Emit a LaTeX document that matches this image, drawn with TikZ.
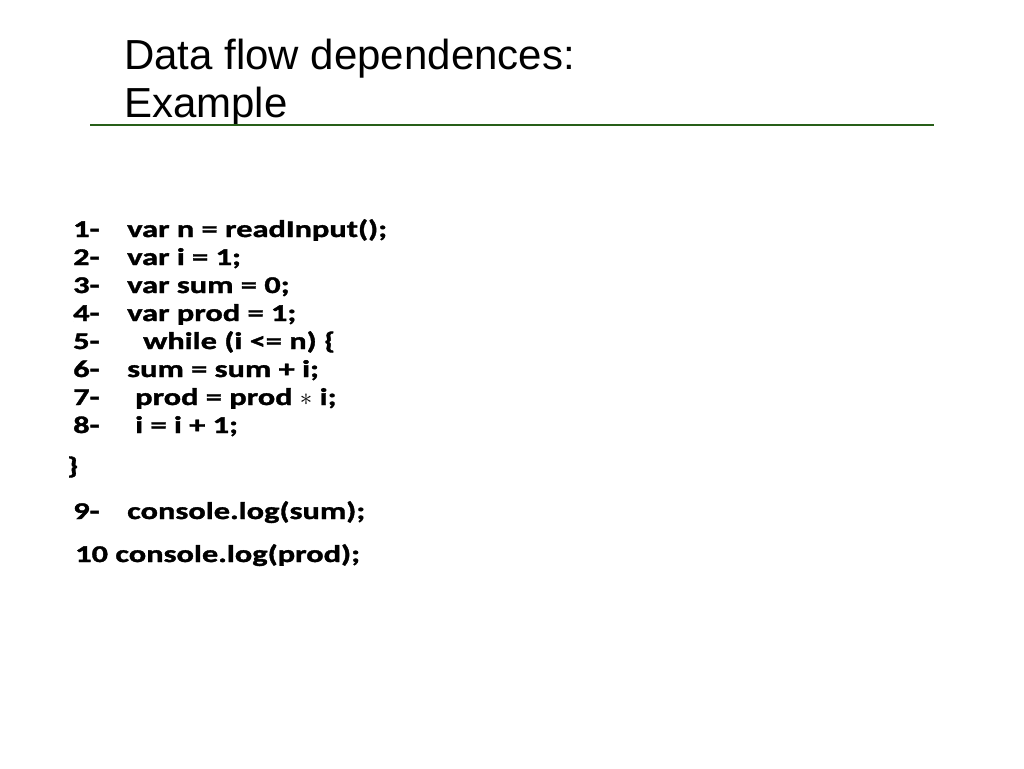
\documentclass[tikz,border=0pt]{standalone}
\usepackage{fontspec}
\setmainfont{Liberation Sans}
\newfontfamily\codefont[FakeStretch=1.35,BoldFeatures={FakeBold=1.5}]{Carlito}
\begin{document}
\begin{tikzpicture}[x=1pt,y=-1pt,
  ttl/.style={anchor=base west,inner sep=0pt,font=\fontsize{42}{48}\selectfont},
  cd/.style={anchor=base west,inner sep=0pt,font=\codefont\bfseries\fontsize{24}{28}\selectfont}]
\useasboundingbox (0,0) rectangle (1024,768);
\node[ttl] (t1) at (124,70) {Data flow dependences:};
\node[ttl] (t2) at (124,117) {Example};
\draw[line width=2.5pt,color={rgb,255:red,40;green,95;blue,25}] (90,125) coordinate (la) -- (934,125) coordinate (lb);
\foreach \n/\y/\x/\t in {1/237/127/{var n = readInput();},2/265/127/{var i = 1;},3/293/127/{var sum = 0;},4/321/127/{var prod = 1;},5/349/143/{while (i <= n) \{},6/377/127/{sum = sum + i;},7/405/135/{prod = prod $\ast$ i;},8/433/135/{i = i + 1;},9/519/127/{console.log(sum);}}{
  \node[cd] (n\n) at (73,\y) {\n-};
  \node[cd] (c\n) at (\x,\y) {\t};
}
\node[cd] (brace) at (67,474) {\}};
\node[cd] (c10) at (75,562) {10 console.log(prod);};
\end{tikzpicture}
\end{document}
